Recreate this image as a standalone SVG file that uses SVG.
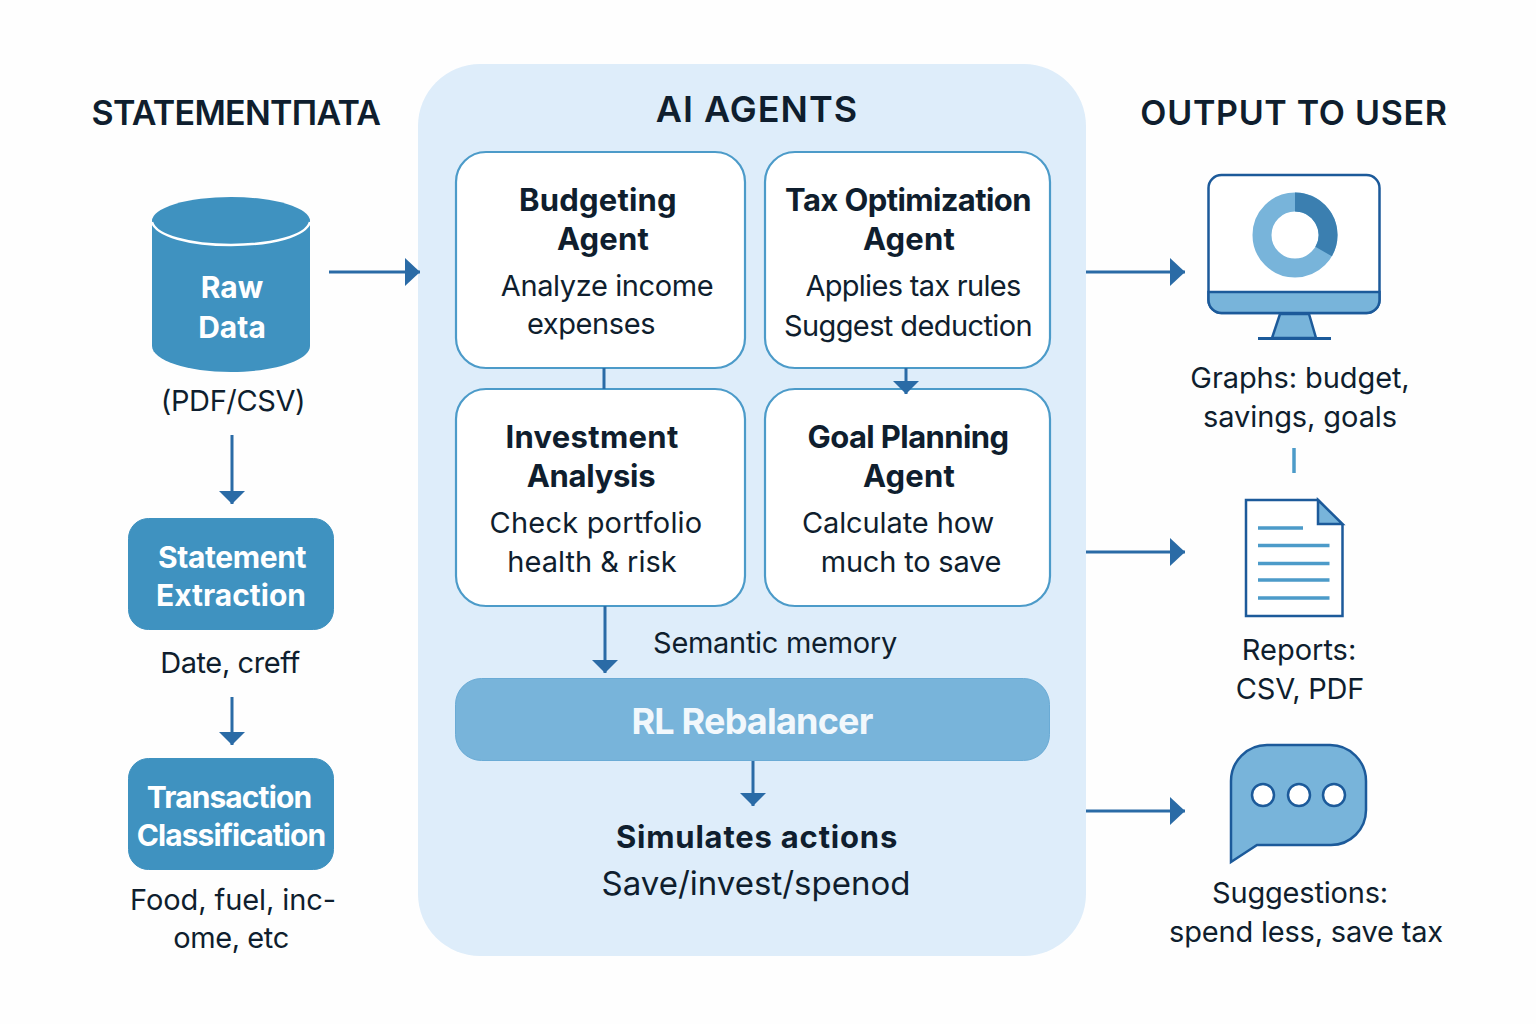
<svg xmlns="http://www.w3.org/2000/svg" width="1536" height="1024" viewBox="0 0 1536 1024">
<defs>
<marker id="ah" markerUnits="userSpaceOnUse" markerWidth="16" markerHeight="28" refX="15" refY="14" orient="auto"><path d="M0 0L15 14L0 28Z" fill="#2a6ba6"/></marker>
<marker id="av" markerUnits="userSpaceOnUse" markerWidth="14" markerHeight="28" refX="13" refY="14" orient="auto"><path d="M0 1L13 14L0 27Z" fill="#2a6ba6"/></marker>
</defs>
<style>
text{font-family:Inter,"Liberation Sans",sans-serif;fill:#0f1e2e;text-anchor:middle}
.h{font-size:34px;font-weight:600}
.b{font-size:29px;font-weight:400;letter-spacing:-.4px}
.t{font-size:31px;font-weight:700;letter-spacing:-.3px}
.w{fill:#fff;font-weight:700;font-size:30px;letter-spacing:-.4px}
.card{fill:#fff;stroke:#4c9bc9;stroke-width:2.2}
.box{fill:#3f92c0;stroke:#3f92c0}
.c{fill:none;stroke:#2a6ba6;stroke-width:3}
.i{stroke:#1c5a9a;stroke-width:2.5}
.l{stroke:#4c9bc9;stroke-width:3.5}
</style>
<rect width="1536" height="1024" fill="#fefefe"/>
<g id="panel"><rect x="418" y="64" width="668" height="892" rx="62" fill="#deedfa"/></g>
<g id="titles">
<text class="h" x="236" y="125" style="letter-spacing:-.7px">STATEMENTΠATA</text>
<text class="h" x="757" y="122" style="font-size:36px;letter-spacing:1px">AI AGENTS</text>
<text class="h" x="1294" y="125" style="letter-spacing:.7px">OUTPUT TO USER</text>
</g>
<g id="raw-data">
<path d="M152 221V346C152 360 187 372 231 372S310 360 310 346V221Z" fill="#3f92c0"/>
<ellipse cx="231" cy="221" rx="79" ry="24" fill="#3f92c0"/>
<path d="M152 222C156 236 190 245 231 245S306 236 310 222" fill="none" stroke="#fff" stroke-width="2.5"/>
<text class="w" x="232" y="298" style="letter-spacing:0">Raw</text><text class="w" x="232" y="338" style="letter-spacing:0">Data</text>
<text class="b" x="233" y="411">(PDF/CSV)</text>
</g>
<g id="statement-extraction">
<rect class="box" x="128.500" y="518.500" width="205" height="111" rx="20"/>
<text class="w" x="232" y="568">Statement</text><text class="w" x="231" y="606" style="letter-spacing:0">Extraction</text>
<text class="b" x="230" y="673">Date, creff</text>
</g>
<g id="transaction-classification">
<rect class="box" x="128.500" y="758.500" width="205" height="111" rx="20"/>
<text class="w" x="229" y="808" style="letter-spacing:-.9px">Transaction</text><text class="w" x="231" y="846" style="letter-spacing:-.9px">Classification</text>
<text class="b" x="233" y="910" style="letter-spacing:-.1px">Food, fuel, inc-</text><text class="b" x="231" y="948">ome, etc</text>
</g>
<g id="budgeting-agent">
<rect class="card" x="456" y="152" width="289" height="216" rx="30"/>
<text class="t" x="598" y="211" style="letter-spacing:.2px">Budgeting</text><text class="t" x="603" y="250" style="letter-spacing:.2px">Agent</text>
<text class="b" x="607" y="296">Analyze income</text><text class="b" x="591" y="334">expenses</text>
</g>
<g id="tax-agent">
<rect class="card" x="765" y="152" width="285" height="216" rx="30"/>
<text class="t" x="908" y="211" style="letter-spacing:-.6px">Tax Optimization</text><text class="t" x="909" y="250" style="letter-spacing:.2px">Agent</text>
<text class="b" x="913" y="296" style="letter-spacing:-.7px">Applies tax rules</text><text class="b" x="908" y="336" style="letter-spacing:-.6px">Suggest deduction</text>
</g>
<g id="investment-analysis">
<rect class="card" x="456" y="389" width="289" height="217" rx="30"/>
<text class="t" x="592" y="448" style="letter-spacing:.3px">Investment</text><text class="t" x="591" y="487">Analysis</text>
<text class="b" x="596" y="533" style="letter-spacing:.2px">Check portfolio</text><text class="b" x="592" y="572" style="letter-spacing:0">health &amp; risk</text>
</g>
<g id="goal-agent">
<rect class="card" x="765" y="389" width="285" height="217" rx="30"/>
<text class="t" x="908" y="448" style="letter-spacing:-.6px">Goal Planning</text><text class="t" x="909" y="487" style="letter-spacing:.2px">Agent</text>
<text class="b" x="898" y="533" style="letter-spacing:-.1px">Calculate how</text><text class="b" x="911" y="572" style="letter-spacing:-.2px">much to save</text>
</g>
<g id="memory"><text class="b" x="775" y="653" style="letter-spacing:-.3px">Semantic memory</text></g>
<g id="rl-rebalancer">
<rect x="455.500" y="678.500" width="594" height="82" rx="26" fill="#78b4da" stroke="#6aabd5"/>
<text x="752" y="734" style="font-size:36px;font-weight:700;fill:#f2f8fc;letter-spacing:-.8px">RL Rebalancer</text>
</g>
<g id="simulates">
<text class="t" x="757" y="848" style="letter-spacing:.8px">Simulates actions</text>
<text class="b" x="756" y="895" style="font-size:33px;letter-spacing:0">Save/invest/spenod</text>
</g>
<g id="monitor">
<rect class="i" x="1208.500" y="175" width="171" height="138" rx="13" fill="#fff"/>
<path class="i" d="M1208.500 292H1379.500V300A13 13 0 0 1 1366.500 313H1221.500A13 13 0 0 1 1208.500 300Z" fill="#78b4da"/>
<path d="M1280 314H1309L1316 338H1272Z" fill="#78b4da" stroke="#1c5a9a" stroke-width="2.500"/>
<path d="M1258 338.500H1331" stroke="#1c5a9a" stroke-width="3"/>
<circle cx="1295" cy="235" r="33" fill="none" stroke="#78b4da" stroke-width="19"/>
<path d="M1295 202A33 33 0 0 1 1323.600 251.500" fill="none" stroke="#3b7fb0" stroke-width="19"/>
<text class="b" x="1300" y="388" style="letter-spacing:-.1px">Graphs: budget,</text><text class="b" x="1300" y="427" style="letter-spacing:-.1px">savings, goals</text>
</g>
<g id="report">
<path class="i" d="M1246 500H1318L1342.500 525V616H1246Z" fill="#fff"/>
<path class="i" d="M1318 500L1342.500 524H1318Z" fill="#78b4da"/>
<path class="l" d="M1258 528H1303M1258 545.500H1329.500M1258 563.500H1329.500M1258 580H1329.500M1258 598H1329.500"/>
<text class="b" x="1299" y="660" style="letter-spacing:0">Reports:</text><text class="b" x="1300" y="699" style="letter-spacing:-.2px">CSV, PDF</text>
</g>
<g id="chat">
<path class="i" d="M1231 862V781A36 36 0 0 1 1267 745H1330A36 36 0 0 1 1366 781V810A35 35 0 0 1 1331 845H1257Z" fill="#78b4da"/>
<g fill="#fff" stroke="#1c5a9a" stroke-width="2.500"><circle cx="1263" cy="795" r="11"/><circle cx="1299" cy="795" r="11"/><circle cx="1334" cy="795" r="11"/></g>
<text class="b" x="1300" y="903" style="letter-spacing:-.2px">Suggestions:</text><text class="b" x="1306" y="942" style="letter-spacing:-.2px">spend less, save tax</text>
</g>
<g id="connectors">
<path class="c" d="M329 272H420" marker-end="url(#ah)"/>
<path class="c" d="M232 435V504" marker-end="url(#av)"/>
<path class="c" d="M232 697V745" marker-end="url(#av)"/>
<path class="c" d="M604 368V389"/>
<path class="c" d="M906 368V394" marker-end="url(#av)"/>
<path class="c" d="M605 606V673" marker-end="url(#av)"/>
<path class="c" d="M753 761V806" marker-end="url(#av)"/>
<path class="c" d="M1086 272H1185" marker-end="url(#ah)"/>
<path class="c" d="M1086 552H1185" marker-end="url(#ah)"/>
<path class="c" d="M1086 811H1185" marker-end="url(#ah)"/>
<path d="M1294 448V473" stroke="#4c9bc9" stroke-width="3.5" fill="none"/>
</g>
</svg>
